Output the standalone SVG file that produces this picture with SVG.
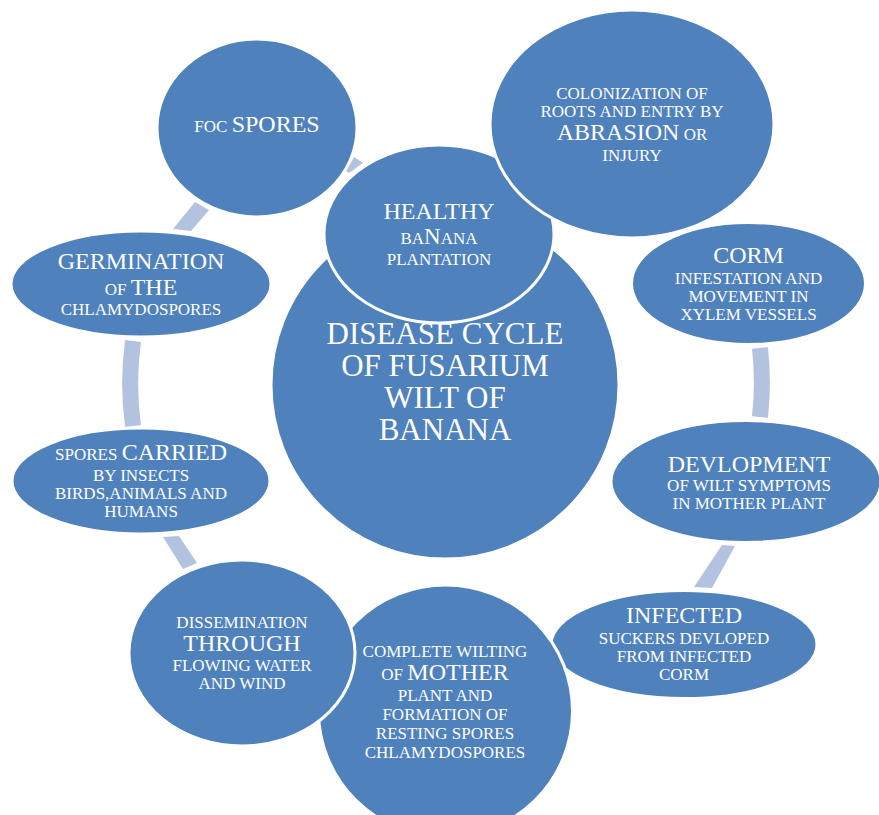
<svg xmlns="http://www.w3.org/2000/svg" width="879" height="815" viewBox="0 0 879 815">
<style>
.node{fill:#4f81bd;stroke:#ffffff;stroke-width:3}
.conn{fill:#b3c3df;stroke:none}
.arc{fill:none;stroke:#b3c3df;stroke-width:16}
text{font-family:"Liberation Serif","Times New Roman",serif;fill:#ffffff;text-anchor:middle}
.s{font-size:17px}
.b{font-size:24px}
.c{font-size:31px}
</style>
<rect width="879" height="815" fill="#ffffff"/>
<g id="connectors">
<polygon class="conn" points="354,157 363,163 349,173 346,171"/>
<polygon class="conn" points="195,202 209,210 191,231 173,229"/>
<path class="arc" d="M133,341 A316,316 0 0 0 133,426"/>
<polygon class="conn" points="163,537 179,536 197,563 183,569"/>
<path class="arc" d="M760,348 A316,316 0 0 1 760,417"/>
<polygon class="conn" points="722,545 735,546 712,588 694,587"/>
</g>
<g id="center">
<circle class="node" cx="445" cy="385" r="174"/>
<text class="c"><tspan x="445" y="344">DISEASE CYCLE</tspan><tspan x="445" y="376">OF FUSARIUM</tspan><tspan x="445" y="408">WILT OF</tspan><tspan x="445" y="440">BANANA</tspan></text>
</g>
<g id="healthy">
<ellipse class="node" cx="439" cy="234" rx="115" ry="89" stroke-width="4"/>
<text class="b" x="439" y="219">HEALTHY</text>
<text x="439" y="244"><tspan class="s">BA</tspan><tspan font-size="23px">N</tspan><tspan class="s">ANA</tspan></text>
<text class="s" x="439" y="265">PLANTATION</text>
</g>
<g id="colonization">
<ellipse class="node" cx="632" cy="124" rx="142" ry="114"/>
<text class="s" x="632" y="99">COLONIZATION OF</text>
<text class="s" x="632" y="117">ROOTS AND ENTRY BY</text>
<text x="632" y="140"><tspan class="b">ABRASION</tspan><tspan class="s"> OR</tspan></text>
<text class="s" x="632" y="161">INJURY</text>
</g>
<g id="corm">
<ellipse class="node" cx="748.5" cy="283.5" rx="117" ry="61"/>
<text class="b" x="748.5" y="263">CORM</text>
<text class="s" x="748.5" y="284">INFESTATION AND</text>
<text class="s" x="748.5" y="302">MOVEMENT IN</text>
<text class="s" x="748.5" y="320">XYLEM VESSELS</text>
</g>
<g id="devlopment">
<ellipse class="node" cx="746" cy="481.5" rx="135" ry="61"/>
<text class="b" x="749" y="472">DEVLOPMENT</text>
<text class="s" x="749" y="491" font-size="16.5px">OF WILT SYMPTOMS</text>
<text class="s" x="749" y="509" font-size="16.5px">IN MOTHER PLANT</text>
</g>
<g id="infected">
<ellipse class="node" cx="684" cy="644.5" rx="133" ry="54"/>
<text class="b" x="684" y="623">INFECTED</text>
<text class="s" x="684" y="644">SUCKERS DEVLOPED</text>
<text class="s" x="684" y="662">FROM INFECTED</text>
<text class="s" x="684" y="680">CORM</text>
</g>
<g id="complete">
<ellipse class="node" cx="445.5" cy="711" rx="127" ry="126"/>
<text class="s" x="445" y="657">COMPLETE WILTING</text>
<text x="445" y="680"><tspan class="s">OF </tspan><tspan class="b">MOTHER</tspan></text>
<text class="s" x="445" y="701">PLANT AND</text>
<text class="s" x="445" y="720">FORMATION OF</text>
<text class="s" x="445" y="739">RESTING SPORES</text>
<text class="s" x="445" y="758">CHLAMYDOSPORES</text>
</g>
<g id="dissemination">
<ellipse class="node" cx="242" cy="653" rx="113" ry="93"/>
<text class="s" x="242" y="628">DISSEMINATION</text>
<text class="b" x="242" y="651">THROUGH</text>
<text class="s" x="242" y="671">FLOWING WATER</text>
<text class="s" x="242" y="689">AND WIND</text>
</g>
<g id="spores-carried">
<ellipse class="node" cx="141" cy="481" rx="129" ry="53"/>
<text x="141" y="460"><tspan class="s">SPORES </tspan><tspan class="b">CARRIED</tspan></text>
<text class="s" x="141" y="481">BY INSECTS</text>
<text class="s" x="141" y="499">BIRDS,ANIMALS AND</text>
<text class="s" x="141" y="517">HUMANS</text>
</g>
<g id="germination">
<ellipse class="node" cx="141" cy="284" rx="130" ry="53"/>
<text class="b" x="141" y="269">GERMINATION</text>
<text x="141" y="295"><tspan class="s">OF </tspan><tspan class="b">THE</tspan></text>
<text class="s" x="141" y="315">CHLAMYDOSPORES</text>
</g>
<g id="foc-spores">
<ellipse class="node" cx="257" cy="128" rx="100" ry="89"/>
<text x="257" y="132"><tspan class="s">FOC </tspan><tspan class="b">SPORES</tspan></text>
</g>
</svg>
